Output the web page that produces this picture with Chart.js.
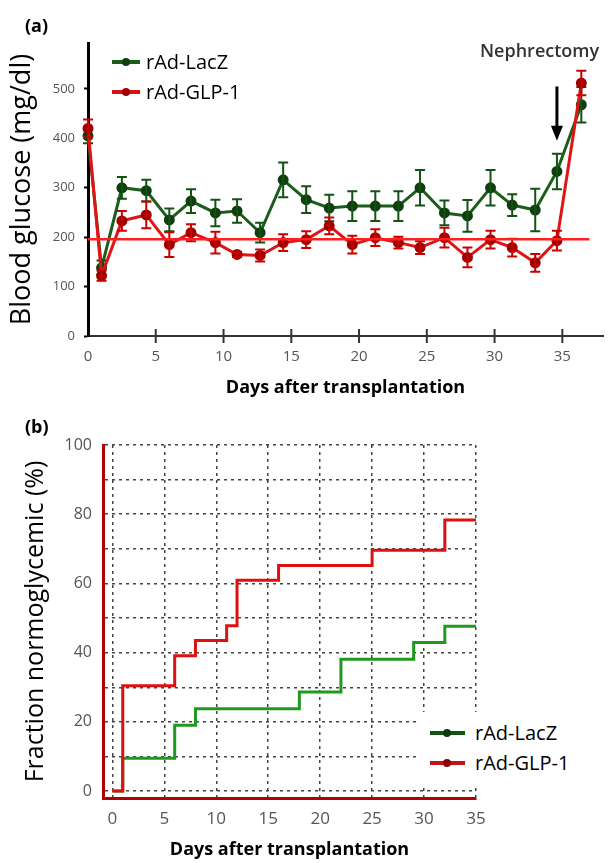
<!DOCTYPE html>
<html>
<head>
<meta charset="utf-8">
<script src="https://cdn.jsdelivr.net/npm/chart.js@4.4.1/dist/chart.umd.min.js"></script>
<style>
  html, body { margin:0; padding:0; background:#fff; }
  body { width:610px; height:863px; position:relative; overflow:hidden; font-family:'Open Sans', sans-serif; }
  canvas { position:absolute; left:0; }
  #cA { top:0; }
  #cB { top:420px; }
  .panel { position:absolute; font-weight:700; font-size:18px; line-height:18px; color:#000; }
  .note { position:absolute; font-weight:600; font-size:18px; line-height:18px; color:#333; white-space:nowrap; }
  .legrow { position:absolute; height:24px; }
  .legline { position:absolute; left:0; top:10px; height:4px; }
  .legdot { position:absolute; top:8px; width:8px; height:8px; border-radius:50%; }
  .legtxt { position:absolute; top:0; font-size:20px; line-height:24px; color:#000; white-space:nowrap; }
  #legB { position:absolute; left:418px; top:712px; width:170px; height:72px; background:#fff; }
</style>
</head>
<body>
<canvas id="cA" width="610" height="400"></canvas>
<canvas id="cB" width="610" height="443"></canvas>

<div class="panel" style="left:25px;top:16px;">(a)</div>
<div class="panel" style="left:25px;top:417px;">(b)</div>
<div class="note" style="left:480px;top:41px;">Nephrectomy</div>

<!-- legend (a) -->
<div class="legrow" style="left:112px;top:50px;width:140px;">
  <div class="legline" style="width:28px;background:#1b5e1b;"></div>
  <div class="legdot" style="left:10px;background:#0f3f0f;"></div>
  <div class="legtxt" style="left:34px;">rAd-LacZ</div>
</div>
<div class="legrow" style="left:112px;top:80px;width:140px;">
  <div class="legline" style="width:28px;background:#d41414;"></div>
  <div class="legdot" style="left:10px;background:#a00000;"></div>
  <div class="legtxt" style="left:34px;">rAd-GLP-1</div>
</div>

<!-- legend (b) -->
<div id="legB">
  <div class="legrow" style="left:12px;top:9px;width:150px;">
    <div class="legline" style="width:35px;background:#145214;"></div>
    <div class="legdot" style="left:13px;background:#0b3a0b;"></div>
    <div class="legtxt" style="left:45px;">rAd-LacZ</div>
  </div>
  <div class="legrow" style="left:12px;top:39px;width:150px;">
    <div class="legline" style="width:35px;background:#c0141c;"></div>
    <div class="legdot" style="left:13px;background:#8a0000;"></div>
    <div class="legtxt" style="left:45px;">rAd-GLP-1</div>
  </div>
</div>

<script>
// ---------- Panel (a): blood glucose ----------
const daysA      = [0, 1, 2.5, 4.3, 6.0, 7.6, 9.4, 11.0, 12.7, 14.4, 16.1, 17.8, 19.5, 21.2, 22.9, 24.5, 26.3, 28.0, 29.7, 31.3, 33.0, 34.6, 36.4];
const lacZMean   = [405, 138, 300, 294, 235, 273, 249, 253, 209, 316, 276, 259, 263, 263, 263, 300, 249, 243, 300, 265, 255, 333, 468];
const lacZErr    = [15, 15, 22, 22, 23, 24, 27, 24, 20, 35, 27, 27, 30, 30, 30, 36, 25, 32, 36, 22, 43, 36, 36];
const glpMean    = [420, 122, 233, 245, 185, 209, 189, 165, 163, 189, 195, 223, 185, 199, 189, 179, 199, 159, 195, 179, 148, 193, 512];
const glpErr     = [18, 10, 20, 27, 25, 17, 22, 5, 12, 17, 17, 17, 18, 17, 12, 13, 20, 20, 18, 18, 18, 20, 25];
const thresholdDays  = [0, 37];
const thresholdValue = 196;
const nephrectomyDay = 34.6;
const arrowFromTo    = [505, 395];
const yRangeA = [0, 593];
const yTickValuesA = [0, 100, 200, 300, 400, 500];
const xRangeA = [0, 38];
const xTickValuesA = [0, 5, 10, 15, 20, 25, 30, 35];

// ---------- Panel (b): fraction normoglycemic ----------
const kmDaysGLP  = [0, 1, 6, 8, 11, 12, 16, 25, 32, 35];
const kmGLP      = [0, 30.4, 39.1, 43.5, 47.8, 60.9, 65.2, 69.6, 78.3, 78.3];
const kmDaysLacZ = [0, 1, 6, 8, 18, 22, 29, 32, 35];
const kmLacZ     = [0, 9.5, 19.0, 23.8, 28.6, 38.1, 42.9, 47.6, 47.6];
const yRangeB = [-2, 100];
const yGridValuesB = [0, 10, 20, 30, 40, 50, 60, 70, 80, 90, 100];
const yLabelValuesB = [0, 20, 40, 60, 80, 100];
const xRangeB = [-0.9, 35];
const xTickValuesB = [0, 5, 10, 15, 20, 25, 30, 35];

Chart.defaults.font.family = "'Open Sans', sans-serif";
Chart.defaults.color = '#555';

const toPts = (xs, ys) => xs.map((x, i) => ({ x: x, y: ys[i] }));
const setTicks = vals => s => { s.ticks = vals.map(v => ({ value: v })); };

const errPlugin = {
  id: 'errbars',
  afterDatasetDraw(chart, args) {
    const ds = chart.data.datasets[args.index];
    if (!ds.errors) return;
    const ctx = chart.ctx, xs = chart.scales.x, ys = chart.scales.y;
    ctx.save();
    ctx.strokeStyle = ds.errColor;
    ctx.lineWidth = 2;
    ds.data.forEach((p, i) => {
      const e = ds.errors[i];
      const x = xs.getPixelForValue(p.x);
      const y1 = ys.getPixelForValue(p.y + e), y2 = ys.getPixelForValue(p.y - e);
      ctx.beginPath();
      ctx.moveTo(x, y1); ctx.lineTo(x, y2);
      ctx.moveTo(x - 5, y1); ctx.lineTo(x + 5, y1);
      ctx.moveTo(x - 5, y2); ctx.lineTo(x + 5, y2);
      ctx.stroke();
    });
    ctx.restore();
  }
};

const annotA = {
  id: 'annotA',
  afterDraw(chart) {
    const ctx = chart.ctx, xs = chart.scales.x, ys = chart.scales.y;
    const base = chart.chartArea.bottom;
    ctx.save();
    ctx.strokeStyle = '#333'; ctx.lineWidth = 2;
    xs.ticks.forEach(t => {
      if (t.value <= 0) return;
      const x = xs.getPixelForValue(t.value);
      ctx.beginPath(); ctx.moveTo(x, base - 7); ctx.lineTo(x, base + 7); ctx.stroke();
    });
    const ax = xs.getPixelForValue(nephrectomyDay);
    const yTop = ys.getPixelForValue(arrowFromTo[0]);
    const yBot = ys.getPixelForValue(arrowFromTo[1]);
    ctx.strokeStyle = '#000'; ctx.fillStyle = '#000'; ctx.lineWidth = 3;
    ctx.beginPath(); ctx.moveTo(ax, yTop); ctx.lineTo(ax, yBot - 12); ctx.stroke();
    ctx.beginPath(); ctx.moveTo(ax - 6, yBot - 15); ctx.lineTo(ax + 6, yBot - 15); ctx.lineTo(ax, yBot); ctx.closePath(); ctx.fill();
    ctx.restore();
  }
};

new Chart(document.getElementById('cA'), {
  type: 'line',
  data: {
    datasets: [
      { label: 'threshold', data: thresholdDays.map(d => ({ x: d, y: thresholdValue })),
        borderColor: '#ff1f1f', borderWidth: 2.5, pointRadius: 0, clip: false },
      { label: 'rAd-GLP-1', data: toPts(daysA, glpMean), errors: glpErr, errColor: '#c80000',
        borderColor: '#e01414', borderWidth: 3, pointRadius: 4,
        pointBackgroundColor: '#a00000', pointBorderColor: '#a00000', clip: false },
      { label: 'rAd-LacZ', data: toPts(daysA, lacZMean), errors: lacZErr, errColor: '#145214',
        borderColor: '#1b5e1b', borderWidth: 3, pointRadius: 4,
        pointBackgroundColor: '#0f3f0f', pointBorderColor: '#0f3f0f', clip: false }
    ]
  },
  options: {
    responsive: false, animation: false, devicePixelRatio: 1,
    layout: { padding: { top: 43, right: 0, left: 0, bottom: 0 } },
    plugins: { legend: { display: false }, tooltip: { enabled: false } },
    elements: { line: { tension: 0 } },
    scales: {
      x: {
        type: 'linear', min: xRangeA[0], max: xRangeA[1],
        afterBuildTicks: setTicks(xTickValuesA),
        afterFit: s => { s.height = 64; },
        ticks: { padding: 12, color: '#555', font: { size: 15 }, maxRotation: 0, autoSkip: false },
        grid: { display: false, drawOnChartArea: false, drawTicks: false },
        border: { display: true, color: '#333', width: 2 },
        title: { display: true, text: 'Days after transplantation', color: '#000', font: { size: 18, weight: 'bold' }, padding: { top: 0, bottom: 1 } }
      },
      y: {
        type: 'linear', min: yRangeA[0], max: yRangeA[1],
        afterBuildTicks: setTicks(yTickValuesA),
        afterFit: s => { s.width = 88; },
        ticks: { padding: 9, color: '#555', font: { size: 13 }, autoSkip: false },
        grid: { display: true, drawOnChartArea: false, drawTicks: true, tickLength: 4, tickColor: '#000', tickWidth: 2 },
        border: { display: true, color: '#000', width: 3 },
        title: { display: true, text: 'Blood glucose (mg/dl)', color: '#000', font: { size: 27 }, padding: { top: 6, bottom: 0 } }
      }
    }
  },
  plugins: [errPlugin, annotA]
});

new Chart(document.getElementById('cB'), {
  type: 'line',
  data: {
    datasets: [
      { label: 'rAd-GLP-1', data: toPts(kmDaysGLP, kmGLP), stepped: 'before',
        borderColor: '#dd1111', borderWidth: 3, pointRadius: 0, clip: false },
      { label: 'rAd-LacZ', data: toPts(kmDaysLacZ, kmLacZ), stepped: 'before',
        borderColor: '#1f9a1f', borderWidth: 3, pointRadius: 0, clip: false }
    ]
  },
  options: {
    responsive: false, animation: false, devicePixelRatio: 1,
    layout: { padding: { top: 25, right: 134, left: 0, bottom: 0 } },
    plugins: { legend: { display: false }, tooltip: { enabled: false } },
    scales: {
      x: {
        type: 'linear', min: xRangeB[0], max: xRangeB[1],
        afterBuildTicks: setTicks(xTickValuesB),
        afterFit: s => { s.height = 65; },
        ticks: { padding: 11, color: '#555', font: { size: 17 }, maxRotation: 0, autoSkip: false },
        grid: { display: true, drawOnChartArea: true, drawTicks: false, color: '#444', lineWidth: 1.5 },
        border: { display: true, color: '#b30000', width: 3, dash: [3, 4] },
        title: { display: true, text: 'Days after transplantation', color: '#000', font: { size: 18, weight: 'bold' }, padding: { top: 0, bottom: 2 } }
      },
      y: {
        type: 'linear', min: yRangeB[0], max: yRangeB[1],
        afterBuildTicks: setTicks(yGridValuesB),
        afterFit: s => { s.width = 103; },
        ticks: { padding: 11, color: '#555', font: { size: 16 }, autoSkip: false,
                 callback: v => (yLabelValuesB.includes(v) ? String(v) : '') },
        grid: { display: true, drawOnChartArea: true, drawTicks: false, color: '#444', lineWidth: 1.5 },
        border: { display: true, color: '#b30000', width: 3, dash: [3, 4] },
        title: { display: true, text: 'Fraction normoglycemic (%)', color: '#000', font: { size: 25 }, padding: { top: 21, bottom: 0 } }
      }
    }
  }
});
</script>
</body>
</html>
